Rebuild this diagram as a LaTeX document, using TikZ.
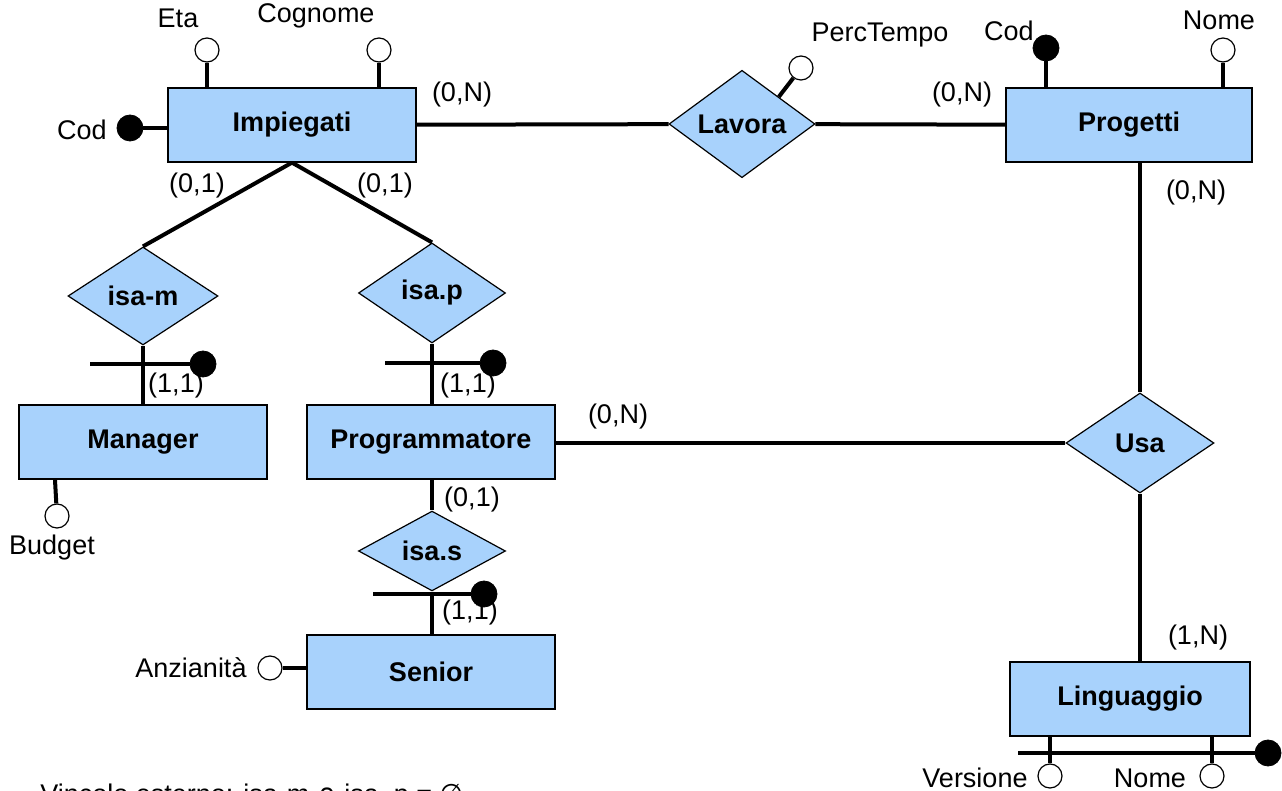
\documentclass[tikz,border=0pt]{standalone}
\usepackage{fontspec}
\setmainfont{Liberation Sans}
\newfontfamily\symfont{DejaVu Sans}
\usetikzlibrary{shapes.geometric}

\definecolor{erblue}{RGB}{168,210,252}
\newcommand{\erfont}{\fontsize{13.5}{16}\selectfont}

\tikzset{
  entity/.style={draw, fill=erblue, line width=0.6pt, minimum width=124pt, minimum height=37pt, inner sep=0pt, font=\erfont\bfseries},
  relation/.style={draw, diamond, fill=erblue, line width=0.6pt, inner sep=0pt, font=\erfont\bfseries},
  attr/.style={circle, draw, fill=white, line width=0.6pt, minimum size=12pt, inner sep=0pt},
  keyattr/.style={circle, draw, fill=black, minimum size=13pt, inner sep=0pt},
  link/.style={line width=2pt},
  card/.style={inner sep=0pt, font=\erfont},
}

\begin{document}
\begin{tikzpicture}[x=0.5pt, y=-0.5pt]
  \useasboundingbox (0,0) rectangle (1282,791);

  % Entities and relations
  \node[entity] (impiegati) at (292,125) {Impiegati};
  \node[relation, minimum width=73pt, minimum height=50pt] (lavora) at (742,124) {Lavora};
  \node[entity, minimum width=123pt] (progetti) at (1129,125) {Progetti};
  \node[relation, minimum width=75pt, minimum height=49pt] (isam) at (143,296) {isa-m};
  \node[relation, minimum width=73.5pt, minimum height=50pt] (isap) at (432,293) {isa.p};
  \node[entity] (manager) at (143,442) {Manager};
  \node[entity] (programmatore) at (431,442) {Programmatore};
  \node[relation, minimum width=73.5pt, minimum height=31pt] (isas) at (432,551) {isa.s};
  \node[entity] (senior) at (431,672) {Senior};
  \node[relation, minimum width=74pt, minimum height=50pt] (usa) at (1140,443) {Usa};
  \node[entity, minimum width=120pt] (linguaggio) at (1130,699) {Linguaggio};

  % Links between entities and relations
  \draw[link] (impiegati) -- (lavora);
  \draw[link] (lavora) -- (progetti);
  \draw[link] (usa.north) -- (usa.north |- progetti.south);
  \draw[link] (usa.west) -- (usa.west -| programmatore.east);
  \draw[link] (usa.south) -- (usa.south |- linguaggio.north);
  \draw[link] (impiegati.south) -- (isam.north);
  \draw[link] (impiegati.south) -- (isap.north);
  \draw[link] (isam.south) -- (isam.south |- manager.north);
  \draw[link] (isap.south) -- (isap.south |- programmatore.north);
  \draw[link] (isas.north) -- (isas.north |- programmatore.south);
  \draw[link] (isas.south) -- (isas.south |- senior.north);

  % Identifiers of the isa children
  \node[keyattr] (kman) at (203,364) {};
  \coordinate (kman-end) at (90,364);
  \draw[link] (kman-end) -- (kman);
  \node[keyattr] (kprog) at (493,363) {};
  \coordinate (kprog-end) at (385,363);
  \draw[link] (kprog-end) -- (kprog);
  \node[keyattr] (ksen) at (484,594) {};
  \coordinate (ksen-end) at (373,594);
  \draw[link] (ksen-end) -- (ksen);

  % Attributes
  \node[attr] (eta) at (207,50) {};
  \node (eta-l) at (178,18) {\erfont Eta};
  \draw[link] (eta) -- (eta |- impiegati.north);
  \node[attr] (cognome) at (379,50) {};
  \node (cognome-l) at (316,16) {\erfont Cognome};
  \draw[link] (cognome) -- (cognome |- impiegati.north);
  \node[keyattr] (codimp) at (130,128) {};
  \node (codimp-l) at (82,130) {\erfont Cod};
  \draw[link] (codimp) -- (codimp -| impiegati.west);

  \node[attr] (perc) at (801,68) {};
  \node (perc-l) at (880,35) {\erfont PercTempo};
  \draw[link] (perc) -- (lavora.north east);

  \node[keyattr] (codprog) at (1046,48) {};
  \node (codprog-l) at (1009,31) {\erfont Cod};
  \draw[link] (codprog) -- (codprog |- progetti.north);
  \node[attr] (nomeprog) at (1223,50) {};
  \node (nomeprog-l) at (1219,20) {\erfont Nome};
  \draw[link] (nomeprog) -- (nomeprog |- progetti.north);

  \node[attr] (budget) at (57,516) {};
  \node (budget-l) at (52,548) {\erfont Budget};
  \draw[link] (budget) -- (55,480);

  \node[attr] (anz) at (270,668) {};
  \node (anz-l) at (191,668) {\erfont Anzianità};
  \draw[link] (anz) -- (anz -| senior.west);

  % Composite identifier of Linguaggio
  \node[attr] (versione) at (1050,776) {};
  \node (versione-l) at (975,778) {\erfont Versione};
  \node[attr] (nomeling) at (1212,776) {};
  \node (nomeling-l) at (1150,778) {\erfont Nome};
  \draw[link] (versione) -- (versione |- linguaggio.south);
  \draw[link] (nomeling) -- (nomeling |- linguaggio.south);
  \node[keyattr] (kling) at (1268,753) {};
  \coordinate (kling-end) at (1018,753);
  \draw[link] (kling-end) -- (kling);

  % Cardinalities
  \node[card] (c-imp-lav) at (462,95) {(0,N)};
  \node[card] (c-prog-lav) at (962,95) {(0,N)};
  \node[card] (c-prog-usa) at (1196,193) {(0,N)};
  \node[card] (c-prgm-usa) at (618,417) {(0,N)};
  \node[card] (c-ling-usa) at (1198,638) {(1,N)};
  \node[card] (c-imp-m) at (197,186) {(0,1)};
  \node[card] (c-imp-p) at (385,186) {(0,1)};
  \node[card] (c-man) at (176,386) {(1,1)};
  \node[card] (c-prgm) at (468,386) {(1,1)};
  \node[card] (c-prgm-s) at (472,500) {(0,1)};
  \node[card] (c-sen) at (470,613) {(1,1)};

  % External constraint
  \node[anchor=base west, inner sep=0pt] (vincolo) at (40,803)
    {\erfont Vincolo esterno: isa-m {\symfont ∩} isa\_p = {\symfont ∅}};
\end{tikzpicture}
\end{document}
